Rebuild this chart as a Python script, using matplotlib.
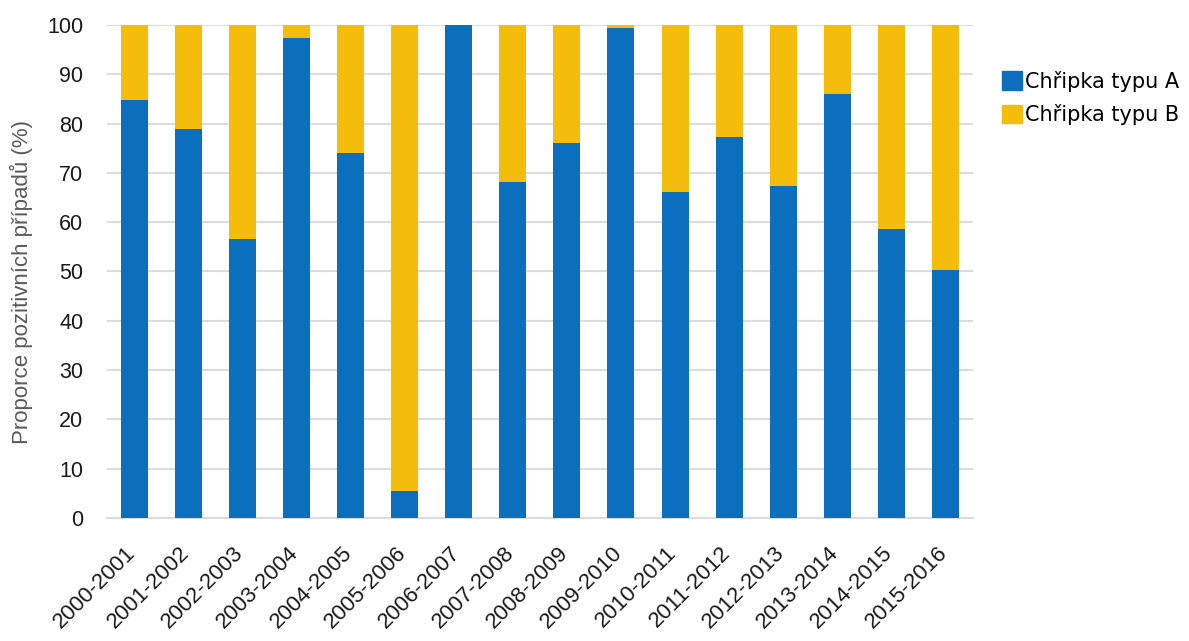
import numpy as np
import matplotlib
matplotlib.use("Agg")
import matplotlib.pyplot as plt
import matplotlib.transforms as mtrans
from matplotlib.patches import Patch

# Seasons and share of positive cases (%)
seasons = ['2000-2001', '2001-2002', '2002-2003', '2003-2004', '2004-2005',
           '2005-2006', '2006-2007', '2007-2008', '2008-2009', '2009-2010',
           '2010-2011', '2011-2012', '2012-2013', '2013-2014', '2014-2015',
           '2015-2016']
flu_A = [84.8, 78.9, 56.6, 97.4, 74.0, 5.5, 100.0, 68.1, 76.1, 99.3,
         66.2, 77.3, 67.4, 86.1, 58.6, 50.2]
flu_B = [100 - a for a in flu_A]

col_A = '#0b6fbe'
col_B = '#f4bd0b'

fig = plt.figure(figsize=(11.89, 6.41), dpi=100)
ax = fig.add_axes([0.09, 0.192, 0.728, 0.769])

x = np.arange(len(seasons))
ax.bar(x, flu_A, width=0.5, color=col_A, zorder=3)
ax.bar(x, flu_B, width=0.5, bottom=flu_A, color=col_B, zorder=3)

ax.set_xlim(-0.5, len(seasons) - 0.5)
ax.set_ylim(0, 100)
ax.set_yticks(np.arange(0, 101, 10))
ax.yaxis.grid(True, color='#dcdcdc', linewidth=1.5, zorder=0)
for s in ['top', 'right', 'left']:
    ax.spines[s].set_visible(False)
ax.spines['bottom'].set_color('#dcdcdc')
ax.spines['bottom'].set_linewidth(1.5)
ax.tick_params(length=0)
ax.tick_params(axis='y', pad=17)
ax.tick_params(axis='x', pad=6)

ax.set_xticks(x)
ax.set_xticklabels(seasons, rotation=45, ha='right', rotation_mode='anchor',
                   fontsize=16, family='Liberation Sans', color='#1a1a1a')
# nudge the slanted season labels down and to the left
shift = mtrans.ScaledTranslation(-9 / 100, -16 / 100, fig.dpi_scale_trans)
for lbl in ax.get_xticklabels():
    lbl.set_transform(lbl.get_transform() + shift)
for lbl in ax.get_yticklabels():
    lbl.set_family('Liberation Sans')
    lbl.set_fontsize(15.5)
    lbl.set_color('#1a1a1a')

ax.set_ylabel('Proporce pozitivních případů (%)', fontsize=16,
              family='Liberation Sans', color='#5a5a5a')
ax.yaxis.set_label_coords(-0.085, 0.479)

handles = [Patch(color=col_A, label='Chřipka typu A'),
           Patch(color=col_B, label='Chřipka typu B')]
fig.legend(handles=handles, loc='upper left', bbox_to_anchor=(0.843, 0.89),
           frameon=False, prop={'family': 'DejaVu Sans', 'size': 15},
           handlelength=0.95, handleheight=1.0, handletextpad=0.15,
           labelspacing=0.6, borderaxespad=0, borderpad=0)

fig.savefig('out.png', dpi=100)
